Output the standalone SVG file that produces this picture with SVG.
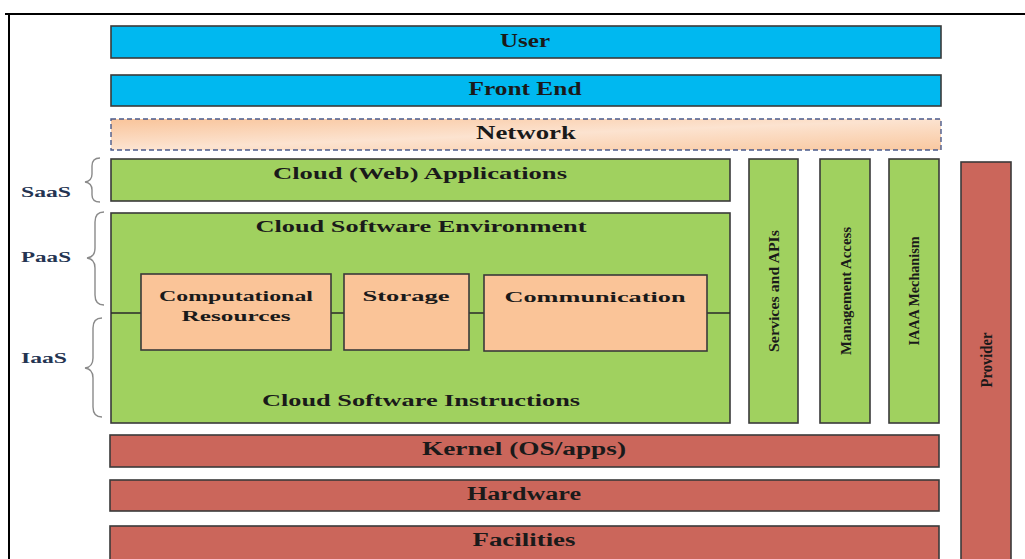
<svg xmlns="http://www.w3.org/2000/svg" width="1025" height="559" viewBox="0 0 1025 559">
<defs>
<linearGradient id="netg" x1="0" y1="0" x2="1" y2="1">
<stop offset="0" stop-color="#F9C49A"/>
<stop offset="0.5" stop-color="#FCE3D0"/>
<stop offset="1" stop-color="#F9C8A0"/>
</linearGradient>
<style>
.box{stroke:#3A3A3A;stroke-width:1.6}
.blue{fill:#00B8F0}
.green{fill:#A0D15F}
.peach{fill:#FAC498}
.red{fill:#CB665B}
.t{font-family:"Liberation Serif",serif;font-weight:bold;fill:#1A1A1A;text-anchor:middle;dominant-baseline:central}
.lab{font-family:"Liberation Serif",serif;font-weight:bold;fill:#243452;font-size:15px;dominant-baseline:central}
.brace{fill:none;stroke:#8A8A8A;stroke-width:1.4}
.conn{stroke:#2A2A2A;stroke-width:1.3;fill:none}
</style>
</defs>
<rect width="1025" height="559" fill="#FFFFFF"/>
<g id="frame"><path d="M5 14 H1025 M9 14 V559" stroke="#000" stroke-width="2" fill="none"/></g>

<g id="user"><rect class="box blue" x="111" y="26" width="830" height="32"/><text class="t" x="525" y="41" font-size="18" textLength="50" lengthAdjust="spacingAndGlyphs">User</text></g>
<g id="frontend"><rect class="box blue" x="111" y="75" width="830" height="31"/><text class="t" x="525" y="89" font-size="18" textLength="113" lengthAdjust="spacingAndGlyphs">Front End</text></g>
<g id="network"><rect x="111" y="119" width="830" height="31" fill="url(#netg)" stroke="#4A5A8A" stroke-width="1.4" stroke-dasharray="5,3"/><text class="t" x="526" y="133" font-size="18" textLength="100" lengthAdjust="spacingAndGlyphs">Network</text></g>

<g id="webapps"><rect class="box green" x="111" y="159" width="619" height="42"/><text class="t" x="420" y="173" font-size="16" textLength="294" lengthAdjust="spacingAndGlyphs">Cloud (Web) Applications</text></g>
<g id="env"><rect class="box green" x="111" y="213" width="619" height="210"/><text class="t" x="421" y="226" font-size="16" textLength="331" lengthAdjust="spacingAndGlyphs">Cloud Software Environment</text><text class="t" x="421" y="400" font-size="16" textLength="318" lengthAdjust="spacingAndGlyphs">Cloud Software Instructions</text></g>

<g id="connectors">
<path class="conn" d="M111 313 H141 M331 313 H344 M469 313 H484 M707 313 H730"/>
</g>

<g id="computational"><rect class="box peach" x="141" y="274" width="190" height="76"/><text class="t" x="236" y="296" font-size="15" textLength="154" lengthAdjust="spacingAndGlyphs">Computational</text><text class="t" x="236" y="316" font-size="15" textLength="109" lengthAdjust="spacingAndGlyphs">Resources</text></g>
<g id="storage"><rect class="box peach" x="344" y="274" width="125" height="76"/><text class="t" x="406" y="296" font-size="15" textLength="87" lengthAdjust="spacingAndGlyphs">Storage</text></g>
<g id="communication"><rect class="box peach" x="484" y="275" width="223" height="76"/><text class="t" x="595" y="297" font-size="15" textLength="181" lengthAdjust="spacingAndGlyphs">Communication</text></g>

<g id="services"><rect class="box green" x="749" y="159" width="49" height="264"/><text class="t" transform="translate(774 291) rotate(-90)" font-size="15" textLength="122" lengthAdjust="spacingAndGlyphs">Services and APIs</text></g>
<g id="management"><rect class="box green" x="820" y="159" width="50" height="264"/><text class="t" transform="translate(846 291) rotate(-90)" font-size="15" textLength="128" lengthAdjust="spacingAndGlyphs">Management Access</text></g>
<g id="iaaa"><rect class="box green" x="889" y="159" width="50" height="264"/><text class="t" transform="translate(914 291) rotate(-90)" font-size="15" textLength="109" lengthAdjust="spacingAndGlyphs">IAAA Mechanism</text></g>
<g id="provider"><rect class="box red" x="961" y="162" width="50" height="400"/><text class="t" transform="translate(986 360) rotate(-90)" font-size="17" textLength="55" lengthAdjust="spacingAndGlyphs">Provider</text></g>

<g id="kernel"><rect class="box red" x="110" y="435" width="829" height="32"/><text class="t" x="524" y="449" font-size="18" textLength="204" lengthAdjust="spacingAndGlyphs">Kernel (OS/apps)</text></g>
<g id="hardware"><rect class="box red" x="110" y="480" width="829" height="31"/><text class="t" x="524" y="494" font-size="18" textLength="114" lengthAdjust="spacingAndGlyphs">Hardware</text></g>
<g id="facilities"><rect class="box red" x="110" y="526" width="829" height="36"/><text class="t" x="524" y="540" font-size="18" textLength="103" lengthAdjust="spacingAndGlyphs">Facilities</text></g>

<g id="saas"><text class="lab" x="21" y="192" textLength="50" lengthAdjust="spacingAndGlyphs">SaaS</text><path class="brace" d="M100 158 Q92 158 92 166 V174 Q92 181 85 182 Q92 183 92 190 V195 Q92 202 100 202"/></g>
<g id="paas"><text class="lab" x="21" y="257" textLength="50" lengthAdjust="spacingAndGlyphs">PaaS</text><path class="brace" d="M104 212 Q95 212 95 222 V248 Q95 257 87 258 Q95 259 95 268 V295 Q95 305 104 305"/></g>
<g id="iaas"><text class="lab" x="21" y="358" textLength="46" lengthAdjust="spacingAndGlyphs">IaaS</text><path class="brace" d="M102 318 Q93 318 93 328 V358 Q93 367 85 368 Q93 369 93 378 V407 Q93 417 102 417"/></g>
</svg>
